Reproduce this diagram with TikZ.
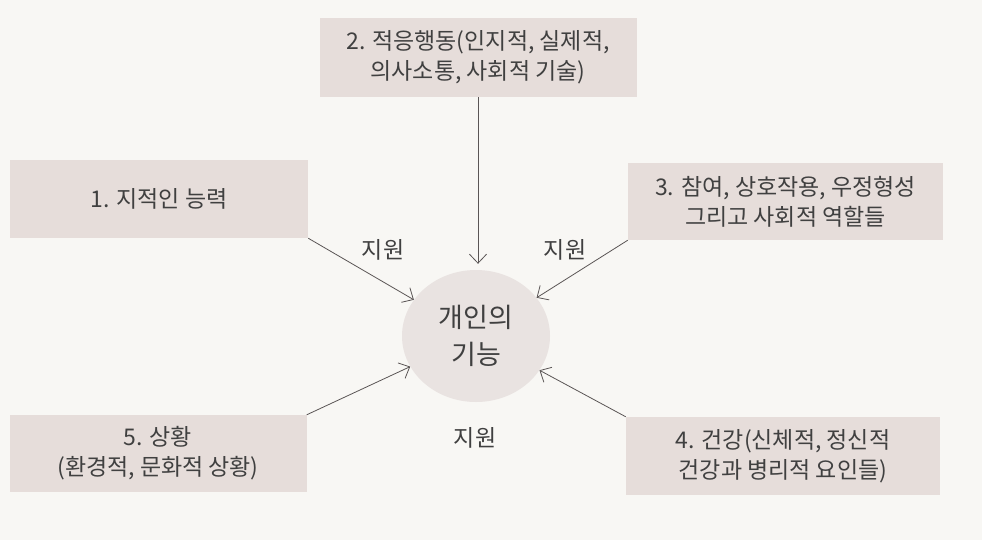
\documentclass[tikz,border=0pt]{standalone}
\usepackage{fontspec}
\setmainfont{Noto Sans CJK KR}
\usetikzlibrary{arrows.meta,shapes.geometric}
\definecolor{paper}{HTML}{F8F7F4}
\definecolor{boxfill}{HTML}{E6DDDA}
\definecolor{circfill}{HTML}{E9E3E1}
\definecolor{ink}{HTML}{404040}
\definecolor{linec}{HTML}{5A5555}
\tikzset{
  boxnode/.style={rectangle, fill=boxfill, draw=none, align=center, text=ink,
    font=\fontsize{23}{30}\selectfont, inner sep=0pt},
  centre/.style={ellipse, fill=circfill, draw=none, align=center, text=ink,
    font=\fontsize{27}{37}\selectfont, inner sep=0pt},
  lbl/.style={text=ink, font=\fontsize{23}{26}\selectfont, inner sep=0pt},
  conn/.style={draw=linec, line width=0.8pt, -{Straight Barb[length=9pt,width=17pt,line width=0.8pt]}},
}
\begin{document}
\begin{tikzpicture}[x=1pt,y=-1pt]
\fill[paper] (0,0) rectangle (982,540);
\useasboundingbox (0,0) rectangle (982,540);

\node[boxnode, minimum width=317pt, minimum height=79pt] (b2) at (478,57.5)
  {2. 적응행동(인지적, 실제적,\\의사소통, 사회적 기술)};
\node[boxnode, minimum width=298pt, minimum height=78pt] (b1) at (159,199)
  {1. 지적인 능력};
\node[boxnode, minimum width=315pt, minimum height=77pt] (b3) at (785.5,201.5)
  {3. 참여, 상호작용, 우정형성\\그리고 사회적 역할들};
\node[boxnode, minimum width=297pt, minimum height=77pt] (b5) at (158,453.5)
  {5. 상황\\(환경적, 문화적 상황)};
\node[boxnode, minimum width=314pt, minimum height=78pt] (b4) at (783,456)
  {4. 건강(신체적, 정신적\\건강과 병리적 요인들)};

\node[centre, minimum width=148pt, minimum height=132pt] (c) at (476,336)
  {개인의\\기능};

\node[lbl] (l1) at (383,250) {지원};
\node[lbl] (l2) at (565,250) {지원};
\node[lbl] (l3) at (475,438) {지원};

\draw[conn, shorten >=6pt] (b2.south) -- (b2.south |- c.north);
\draw[conn] (b1.south east) -- (c);
\draw[conn] (b3.south west) -- (c);
\draw[conn] (b5.north east) -- (c);
\draw[conn] (b4.north west) -- (c);
\end{tikzpicture}
\end{document}
